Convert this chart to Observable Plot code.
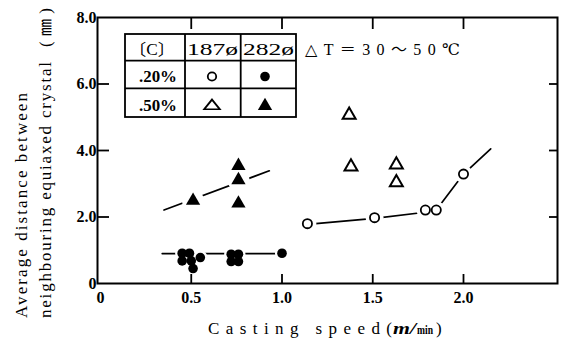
<!DOCTYPE html>
<html><head><meta charset="utf-8">
<script src="https://cdn.jsdelivr.net/npm/d3@7"></script>
<script src="https://cdn.jsdelivr.net/npm/@observablehq/plot@0.6"></script>
<style>body{margin:0;background:#fff}</style>
</head><body><div id="chart"></div>
<script>
// ---- tick values & labels
const xTicks = [0, 0.5, 1.0, 1.5, 2.0];
const xTickLabels = ["0", "0.5", "1.0", "1.5", "2.0"];
const yTicks = [0, 2, 4, 6, 8];
const yTickLabels = ["0", "2.0", "4.0", "6.0", "8.0"];
const xInnerTicks = [0.5, 1.0, 1.5, 2.0];
const yInnerTicks = [2, 4, 6];

// ---- data: [C] .20%, 187ø  (open circles)
const openCircleSpeed = [1.14, 1.51, 1.79, 1.85, 2.00];
const openCircleDist  = [1.80, 1.98, 2.21, 2.21, 3.29];
// [C] .20%, 282ø (filled circles)
const filledCircleSpeed = [0.45, 0.49, 0.45, 0.50, 0.55, 0.51, 0.72, 0.76, 0.72, 0.76, 1.00];
const filledCircleDist  = [0.91, 0.91, 0.68, 0.68, 0.78, 0.45, 0.88, 0.88, 0.66, 0.66, 0.91];
// [C] .50%, 187ø (open triangles)
const openTriSpeed = [1.37, 1.38, 1.63, 1.63];
const openTriDist  = [5.07, 3.51, 3.57, 3.04];
// [C] .50%, 282ø (filled triangles)
const filledTriSpeed = [0.51, 0.76, 0.76, 0.76];
const filledTriDist  = [2.49, 3.54, 3.11, 2.41];

// ---- hand-drawn trend lines
const trendOpenCircleSpeed = [1.14, 1.51, 1.80, 1.85, 2.00, 2.15];
const trendOpenCircleDist  = [1.78, 1.96, 2.15, 2.21, 3.29, 4.05];
const trendFilledCircleSpeed = [0.34, 0.98];
const trendFilledCircleDist  = [0.90, 0.90];
const trendFilledTriSpeed = [0.35, 0.93];
const trendFilledTriDist  = [2.21, 3.39];

// ---- texts
const legendHeader = ["〔C〕", "187ø", "282ø"];
const legendRows = [".20%", ".50%"];
const deltaT = "△T＝30～50℃";
const xLabelMain = "Casting speed(";
const xLabelUnit1 = "m/";
const xLabelUnit2 = "min";
const xLabelClose = ")";
const yLabel1 = "Average distance between";
const yLabel2 = "neighbouring equiaxed crystal";
const yLabelUnit = "(㎜)";

// ---- layout
const W = 565, H = 339, mL = 97, mR = 8, mT = 17, mB = 56;
const pxPerX = 181.5;
const xDomain = [-3 / pxPerX, (W - mL - mR - 3) / pxPerX];
const pxPerY = (H - mT - mB) / 8;
const serif = "'Liberation Serif', 'Times New Roman', 'DejaVu Serif', 'Noto Sans CJK JP', serif";

const pts = (xs, ys) => xs.map((x, i) => ({x, y: ys[i]}));
const xLab = new Map(xTicks.map((d, i) => [d, xTickLabels[i]]));
const yLab = new Map(yTicks.map((d, i) => [d, yTickLabels[i]]));

const openC = pts(openCircleSpeed, openCircleDist);
const fillC = pts(filledCircleSpeed, filledCircleDist);
const openT = pts(openTriSpeed, openTriDist);
const fillT = pts(filledTriSpeed, filledTriDist);

const plot = Plot.plot({
  width: W, height: H,
  marginLeft: mL, marginRight: mR, marginTop: mT, marginBottom: mB,
  x: {domain: xDomain},
  y: {domain: [0, 8]},
  style: {background: "#fff", fontFamily: serif, color: "#000"},
  marks: [
    Plot.line(pts(trendOpenCircleSpeed, trendOpenCircleDist), {x: "x", y: "y", stroke: "#000", strokeWidth: 1.7}),
    Plot.line(pts(trendFilledCircleSpeed, trendFilledCircleDist), {x: "x", y: "y", stroke: "#000", strokeWidth: 1.7}),
    Plot.line(pts(trendFilledTriSpeed, trendFilledTriDist), {x: "x", y: "y", stroke: "#000", strokeWidth: 1.7}),
    // knock-out gaps around markers
    Plot.dot(openC, {x: "x", y: "y", r: 9, fill: "#fff"}),
    Plot.dot(fillC, {x: "x", y: "y", r: 7, fill: "#fff"}),
    Plot.dot(fillT, {x: "x", y: "y", r: 11, fill: "#fff"}),
    // markers
    Plot.dot(openC, {x: "x", y: "y", r: 4.6, fill: "#fff", stroke: "#000", strokeWidth: 1.8}),
    Plot.dot(fillC, {x: "x", y: "y", r: 4.8, fill: "#000"}),
    Plot.dot(openT, {x: "x", y: "y", r: 4.8, symbol: "triangle", fill: "#fff", stroke: "#000", strokeWidth: 2}),
    Plot.dot(fillT, {x: "x", y: "y", r: 5.3, symbol: "triangle", fill: "#000"}),
    Plot.frame({stroke: "#000", strokeWidth: 2}),
    // inward ticks
    Plot.ruleX(xInnerTicks, {y1: 0, y2: 9 / pxPerY, stroke: "#000", strokeWidth: 1.8}),
    Plot.ruleX(xInnerTicks, {y1: 8, y2: 8 - 12 / pxPerY, stroke: "#000", strokeWidth: 1.8}),
    Plot.ruleY(yInnerTicks, {x1: xDomain[0], x2: xDomain[0] + 12 / pxPerX, stroke: "#000", strokeWidth: 1.8}),
    Plot.ruleY(yInnerTicks, {x1: xDomain[1], x2: xDomain[1] - 8 / pxPerX, stroke: "#000", strokeWidth: 1.8}),
    Plot.axisX(xTicks, {tickSize: 0, tickPadding: 8, tickFormat: d => xLab.get(d), label: null, fontSize: 16, fontWeight: "bold", fontFamily: serif, fill: "#000"}),
    Plot.axisY(yTicks, {tickSize: 0, tickPadding: 1, tickFormat: d => yLab.get(d), label: null, fontSize: 16, fontWeight: "bold", fontFamily: serif, fill: "#000"})
  ]
});
document.getElementById("chart").appendChild(plot);

const svg = d3.select(plot);

// ---- legend table
const tbl = {x0: 125, x1: 296, y0: 34, y1: 117, rows: [34, 60.7, 88.3, 117], cols: [125, 185, 240.7, 296]};
const g = svg.append("g").attr("stroke", "#000").attr("stroke-width", 1.8).attr("fill", "none");
g.append("rect").attr("x", tbl.x0).attr("y", tbl.y0).attr("width", tbl.x1 - tbl.x0).attr("height", tbl.y1 - tbl.y0).attr("fill", "#fff");
[tbl.rows[1], tbl.rows[2]].forEach(y => g.append("line").attr("x1", tbl.x0).attr("x2", tbl.x1).attr("y1", y).attr("y2", y));
[tbl.cols[1], tbl.cols[2]].forEach(x => g.append("line").attr("x1", x).attr("x2", x).attr("y1", tbl.y0).attr("y2", tbl.y1));

const tg = svg.append("g").attr("font-family", serif).attr("font-size", 16).attr("fill", "#000").attr("text-anchor", "start");
const headerX = [129, 187, 243], headerLen = [46, 51, 51];
legendHeader.forEach((t, i) => tg.append("text").attr("x", headerX[i]).attr("y", 55).attr("textLength", headerLen[i]).attr("lengthAdjust", "spacingAndGlyphs").text(t));
const rowBase = [81.5, 110.5];
legendRows.forEach((t, i) => tg.append("text").attr("x", 139).attr("y", rowBase[i]).attr("font-weight", "bold").attr("textLength", 38).attr("lengthAdjust", "spacingAndGlyphs").text(t));
tg.append("text").attr("x", 305).attr("y", 55).attr("textLength", 155).attr("lengthAdjust", "spacing").text(deltaT);

const sym = (type, r) => d3.symbol().type(type).size(Math.PI * r * r)();
const cx = [212, 265], cy = [76.5, 106];
svg.append("path").attr("d", sym(d3.symbolCircle, 4.2)).attr("transform", `translate(${cx[0]},${cy[0]})`).attr("fill", "#fff").attr("stroke", "#000").attr("stroke-width", 1.8);
svg.append("path").attr("d", sym(d3.symbolCircle, 4.8)).attr("transform", `translate(${cx[1]},${cy[0]})`).attr("fill", "#000");
svg.append("path").attr("d", sym(d3.symbolTriangle, 4.8)).attr("transform", `translate(${cx[0]},${cy[1]}) scale(1.2,0.85)`).attr("fill", "#fff").attr("stroke", "#000").attr("stroke-width", 1.8);
svg.append("path").attr("d", sym(d3.symbolTriangle, 5.3)).attr("transform", `translate(${cx[1]},${cy[1]})`).attr("fill", "#000");

// ---- axis titles
const xl = svg.append("g").attr("font-family", serif).attr("font-size", 17).attr("fill", "#000").attr("text-anchor", "start");
xl.append("text").attr("x", 208).attr("y", 334).attr("textLength", 184).attr("lengthAdjust", "spacing").text(xLabelMain);
xl.append("text").attr("x", 393).attr("y", 334).attr("font-style", "italic").attr("font-weight", "bold").attr("textLength", 23).attr("lengthAdjust", "spacingAndGlyphs").text(xLabelUnit1);
xl.append("text").attr("x", 417).attr("y", 334).attr("font-size", 12).attr("font-weight", "bold").attr("textLength", 16).attr("lengthAdjust", "spacingAndGlyphs").text(xLabelUnit2);
xl.append("text").attr("x", 436).attr("y", 334).text(xLabelClose);

const yl = svg.append("g").attr("font-family", serif).attr("font-size", 17).attr("fill", "#000").attr("text-anchor", "start");
yl.append("text").attr("transform", "translate(27,318) rotate(-90)").attr("textLength", 225).attr("lengthAdjust", "spacing").text(yLabel1);
yl.append("text").attr("transform", "translate(51,318) rotate(-90)").attr("textLength", 256).attr("lengthAdjust", "spacing").text(yLabel2);
yl.append("text").attr("transform", "translate(51,47) rotate(-90)").attr("textLength", 39).attr("lengthAdjust", "spacing").text(yLabelUnit);
</script>
</body></html>
